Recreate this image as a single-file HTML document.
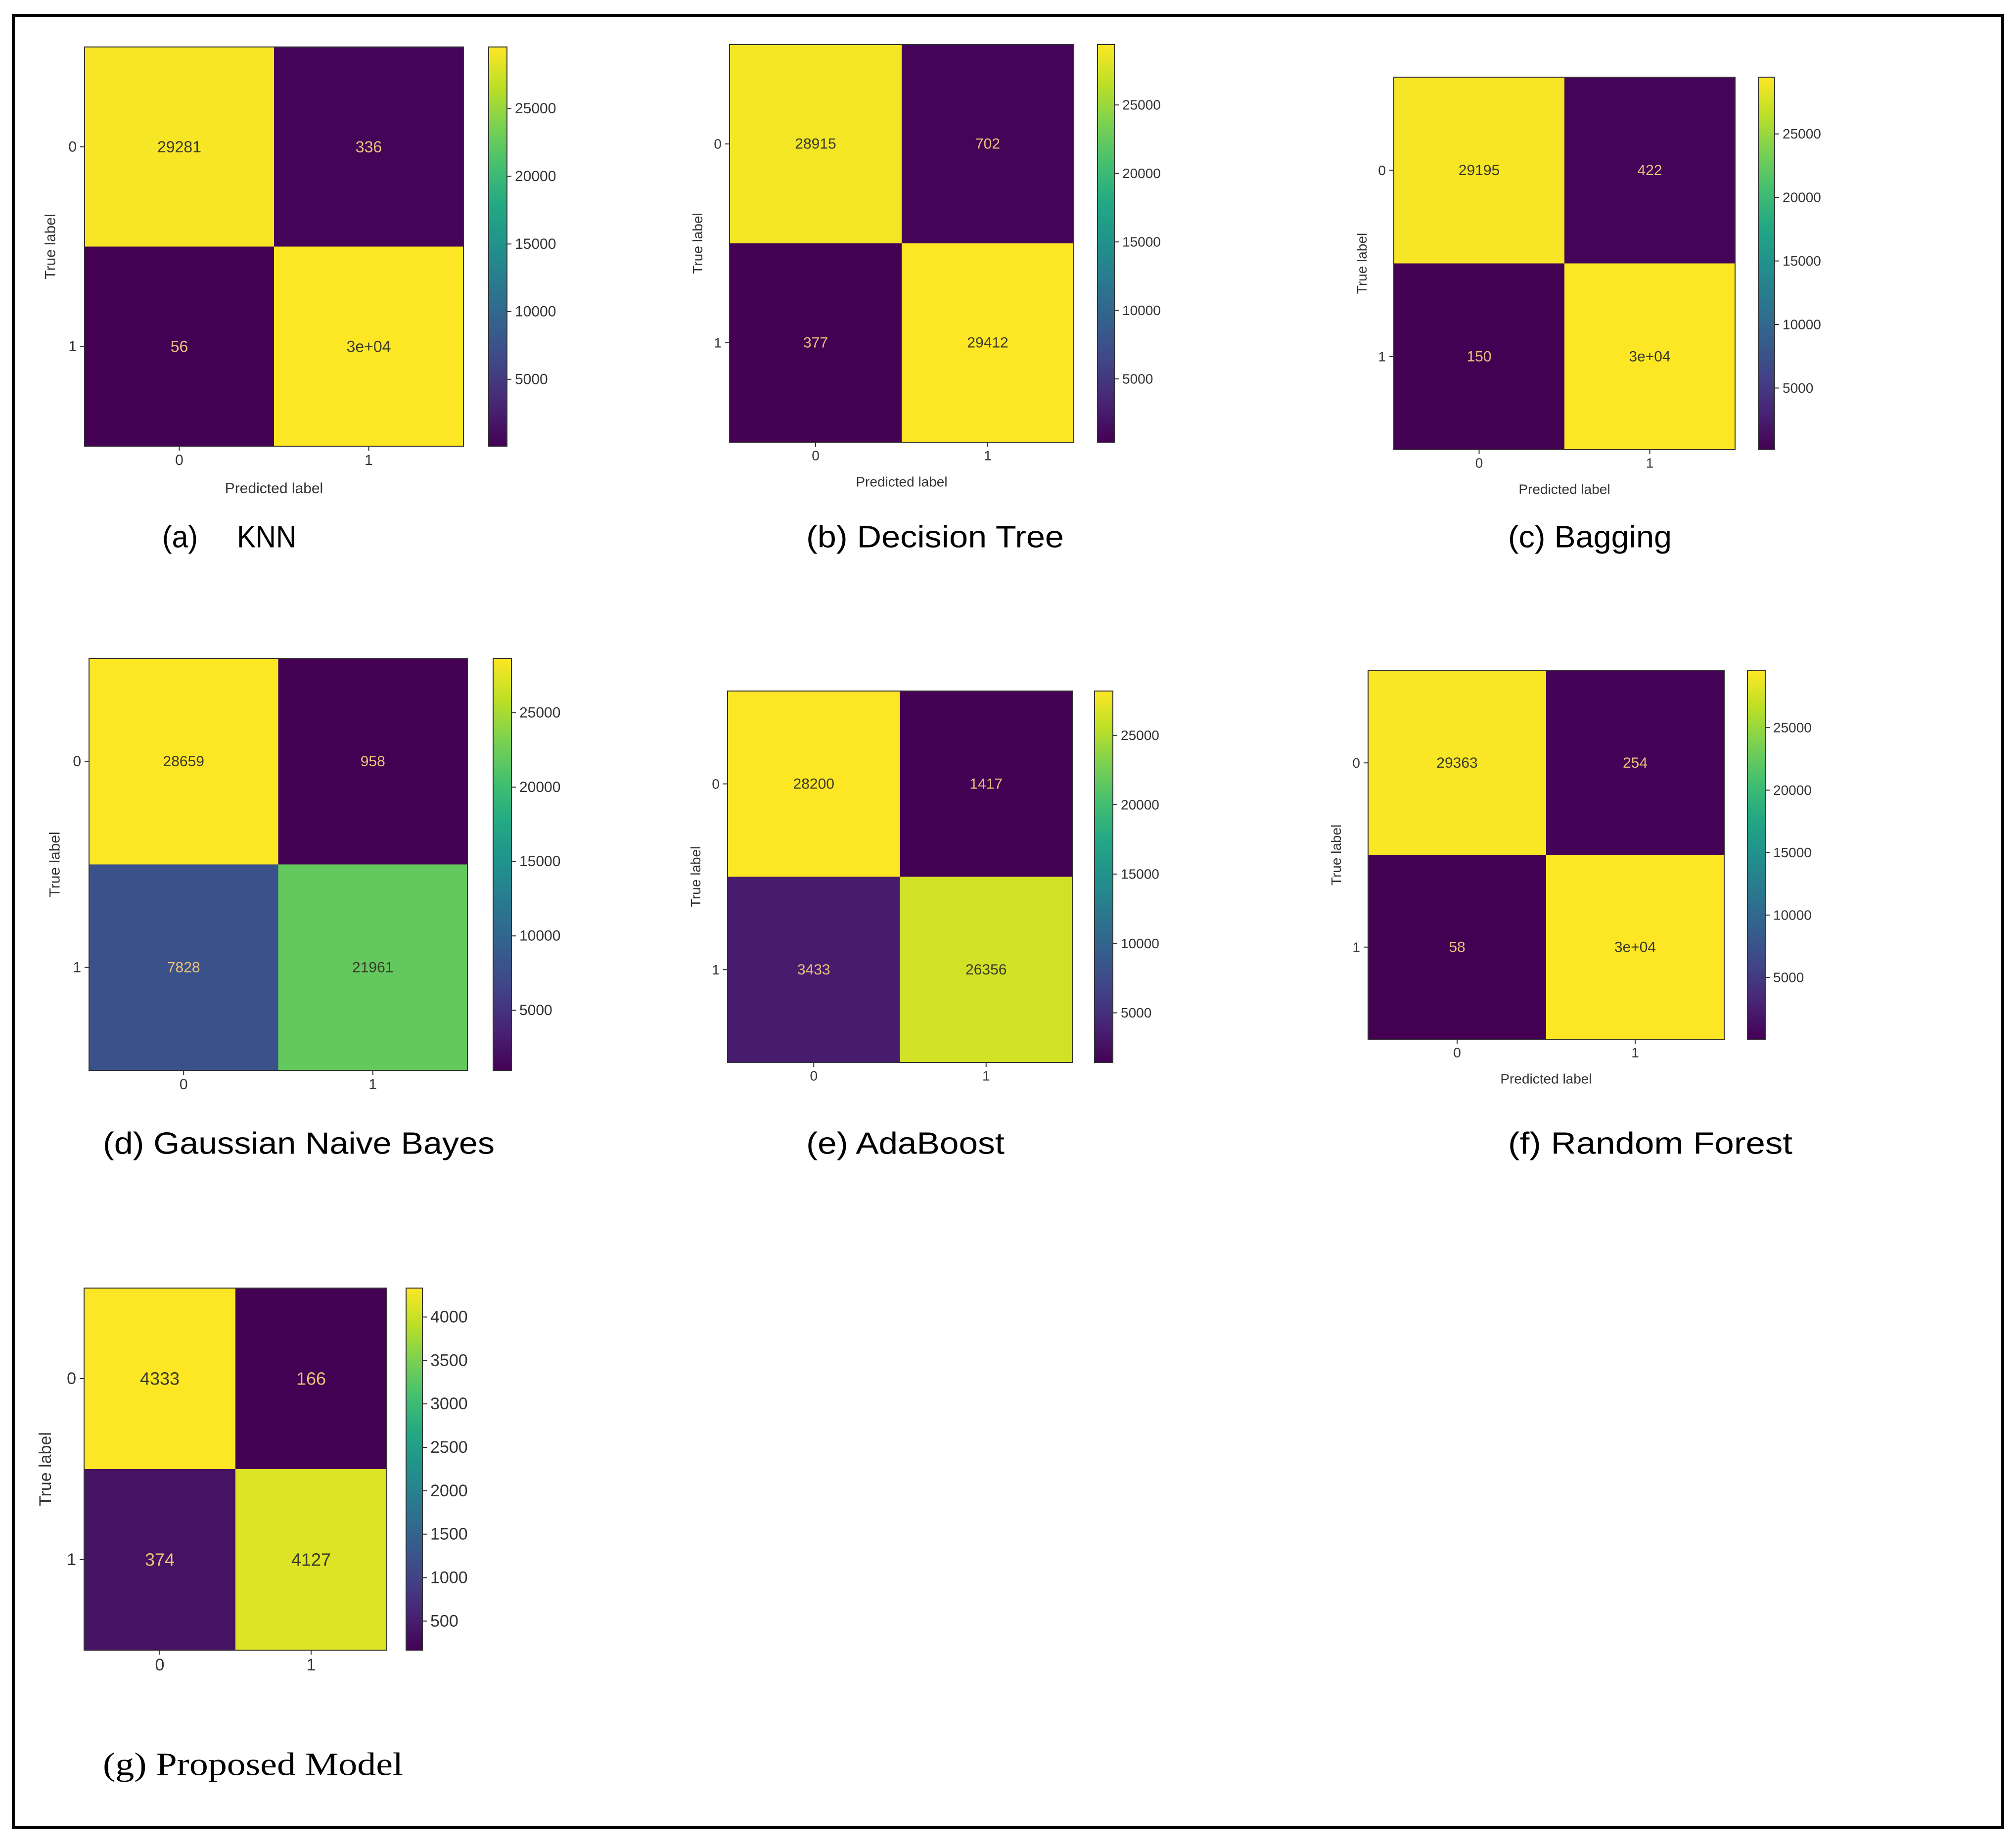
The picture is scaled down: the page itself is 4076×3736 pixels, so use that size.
<!DOCTYPE html>
<html><head><meta charset="utf-8"><style>
html,body{margin:0;padding:0;background:#fff;}
svg{display:block;}
</style></head><body>
<svg id="fig" width="4076" height="3736" viewBox="0 0 4076 3736" xmlns="http://www.w3.org/2000/svg">
<defs>
<linearGradient id="viridis" x1="0" y1="1" x2="0" y2="0">
<stop offset="0" stop-color="#440154"/><stop offset="0.1" stop-color="#482475"/><stop offset="0.2" stop-color="#414487"/><stop offset="0.3" stop-color="#355f8d"/><stop offset="0.4" stop-color="#2a788e"/><stop offset="0.5" stop-color="#21918c"/><stop offset="0.6" stop-color="#22a884"/><stop offset="0.7" stop-color="#44bf70"/><stop offset="0.8" stop-color="#7ad151"/><stop offset="0.9" stop-color="#bddf26"/><stop offset="1" stop-color="#fde725"/>
</linearGradient>
</defs>
<rect x="27" y="31" width="4022" height="3664" fill="none" stroke="#000" stroke-width="6"/>
<text x="479" y="1086" font-family="Liberation Sans, sans-serif" font-size="62" dominant-baseline="central" textLength="120" lengthAdjust="spacingAndGlyphs">KNN</text>
</svg>
<script>
// ---- data ----
const classLabels = ["0","1"];
const knnValues = [29281, 336, 56, 29561];
const knnLabels = ["29281","336","56","3e+04"];
const knnTicks = [5000,10000,15000,20000,25000];
const dtValues = [28915, 702, 377, 29412];
const dtLabels = ["28915","702","377","29412"];
const dtTicks = [5000,10000,15000,20000,25000];
const bagValues = [29195, 422, 150, 29467];
const bagLabels = ["29195","422","150","3e+04"];
const bagTicks = [5000,10000,15000,20000,25000];
const gnbValues = [28659, 958, 7828, 21961];
const gnbLabels = ["28659","958","7828","21961"];
const gnbTicks = [5000,10000,15000,20000,25000];
const adaValues = [28200, 1417, 3433, 26356];
const adaLabels = ["28200","1417","3433","26356"];
const adaTicks = [5000,10000,15000,20000,25000];
const rfValues = [29363, 254, 58, 29559];
const rfLabels = ["29363","254","58","3e+04"];
const rfTicks = [5000,10000,15000,20000,25000];
const propValues = [4333, 166, 374, 4127];
const propLabels = ["4333","166","374","4127"];
const propTicks = [500,1000,1500,2000,2500,3000,3500,4000];

const NS = "http://www.w3.org/2000/svg";
const svg = document.getElementById("fig");
const vir = ["#440154","#482475","#414487","#355f8d","#2a788e","#21918c","#22a884","#44bf70","#7ad151","#bddf26","#fde725"];
function hex(h){return [1,3,5].map(i=>parseInt(h.substr(i,2),16));}
function viridis(t){
  t=Math.max(0,Math.min(1,t));
  const p=t*10, i=Math.min(9,Math.floor(p)), f=p-i;
  const a=hex(vir[i]), b=hex(vir[i+1]);
  return "rgb("+a.map((v,k)=>Math.round(v+(b[k]-v)*f)).join(",")+")";
}
function el(tag, attrs, parent){
  const e=document.createElementNS(NS,tag);
  for(const k in attrs) e.setAttribute(k,attrs[k]);
  (parent||svg).appendChild(e);
  return e;
}
function txt(s, attrs, parent){const t=el("text",attrs,parent);t.textContent=s;return t;}

function drawPanel(id, values, labels, ticks, L){
  const g=el("g",{});
  
  
  const vmin=Math.min(...values), vmax=Math.max(...values);
  const cw=(L.x1-L.x0)/2, ch=(L.y1-L.y0)/2;
  const F='"Liberation Sans", "DejaVu Sans", sans-serif';
  for(let r=0;r<2;r++)for(let c=0;c<2;c++){
    const v=values[r*2+c], t=(v-vmin)/(vmax-vmin);
    const rc=el("rect",{x:L.x0+c*cw,y:L.y0+r*ch,width:cw,height:ch,fill:viridis(t)},g);
    
    
    const tx=txt(labels[r*2+c],{x:L.x0+(c+0.5)*cw,y:L.y0+(r+0.5)*ch,"font-family":F,"font-size":L.vf,"text-anchor":"middle","dominant-baseline":"central",fill:t>0.5?"#3a3a2a":"#e9c27a"},g);
    
    
  }
  el("rect",{x:L.x0,y:L.y0,width:L.x1-L.x0,height:L.y1-L.y0,fill:"none",stroke:"#333","stroke-width":2},g);
  for(let i=0;i<2;i++){
    const cy=L.y0+(i+0.5)*ch, cx=L.x0+(i+0.5)*cw;
    el("line",{x1:L.x0-9,y1:cy,x2:L.x0,y2:cy,stroke:"#333","stroke-width":2},g);
    const yl=txt(classLabels[i],{x:L.x0-16,y:cy,"font-family":F,"font-size":L.tf,"text-anchor":"end","dominant-baseline":"central",fill:"#333"},g);
    
    
    el("line",{x1:cx,y1:L.y1,x2:cx,y2:L.y1+9,stroke:"#333","stroke-width":2},g);
    const xl=txt(classLabels[i],{x:cx,y:L.y1+14+L.tf*0.8,"font-family":F,"font-size":L.tf,"text-anchor":"middle",fill:"#333"},g);
    
    
  }
  const yt=txt("True label",{x:0,y:0,"font-family":F,"font-size":L.tf,"text-anchor":"middle","dominant-baseline":"central",fill:"#333",transform:"translate("+(L.x0-L.tf*2.3)+","+((L.y0+L.y1)/2)+") rotate(-90)"},g);
  
  
  if(L.xlabel){
    const xt=txt("Predicted label",{x:(L.x0+L.x1)/2,y:L.y1+14+L.tf*2.7,"font-family":F,"font-size":L.tf,"text-anchor":"middle",fill:"#333"},g);
    
    
  }
  const cb=el("rect",{x:L.cb0,y:L.y0,width:L.cb1-L.cb0,height:L.y1-L.y0,fill:"url(#viridis)",stroke:"#333","stroke-width":2},g);
  
  
  ticks.forEach(tv=>{
    const y=L.y1-(tv-vmin)/(vmax-vmin)*(L.y1-L.y0);
    el("line",{x1:L.cb1,y1:y,x2:L.cb1+9,y2:y,stroke:"#333","stroke-width":2},g);
    const cl=txt(String(tv),{x:L.cb1+16,y:y,"font-family":F,"font-size":L.tf,"dominant-baseline":"central",fill:"#333"},g);
    
    
  });
  const cap=txt(L.cap,{x:L.capx,y:L.capy,"font-family":L.serif?'"Liberation Serif", serif':F,"font-size":L.cf,"dominant-baseline":"central",fill:"#000",textLength:L.capw,lengthAdjust:"spacingAndGlyphs"},g);
  
  
}

drawPanel("knn", knnValues, knnLabels, knnTicks, {x0:171,x1:937,y0:95,y1:902,cb0:988,cb1:1025,vf:32,tf:30,xlabel:true,cap:"(a)",capx:328,capy:1086,cf:62,capw:72});
drawPanel("decision-tree", dtValues, dtLabels, dtTicks, {x0:1475,x1:2171,y0:90,y1:894,cb0:2219,cb1:2253,vf:30,tf:28,xlabel:true,cap:"(b) Decision Tree",capx:1630,capy:1086,cf:62,capw:521});
drawPanel("bagging", bagValues, bagLabels, bagTicks, {x0:2818,x1:3508,y0:156,y1:909,cb0:3555,cb1:3588,vf:30,tf:28,xlabel:true,cap:"(c) Bagging",capx:3049,capy:1086,cf:62,capw:331});
drawPanel("gaussian-nb", gnbValues, gnbLabels, gnbTicks, {x0:180,x1:945,y0:1331,y1:2164,cb0:997,cb1:1034,vf:30,tf:30,xlabel:false,cap:"(d)  Gaussian  Naive  Bayes",capx:208,capy:2312,cf:62,capw:792});
drawPanel("adaboost", adaValues, adaLabels, adaTicks, {x0:1471,x1:2168,y0:1397,y1:2148,cb0:2213,cb1:2250,vf:30,tf:28,xlabel:false,cap:"(e)  AdaBoost",capx:1630,capy:2312,cf:62,capw:401});
drawPanel("random-forest", rfValues, rfLabels, rfTicks, {x0:2766,x1:3486,y0:1356,y1:2101,cb0:3533,cb1:3569,vf:30,tf:28,xlabel:true,cap:"(f)  Random  Forest",capx:3049,capy:2312,cf:62,capw:575});
drawPanel("proposed", propValues, propLabels, propTicks, {x0:170,x1:782,y0:2604,y1:3336,cb0:821,cb1:854,vf:36,tf:34,xlabel:false,cap:"(g)  Proposed  Model",capx:208,capy:3567,cf:66,capw:607,serif:true});
</script>
</body></html>
